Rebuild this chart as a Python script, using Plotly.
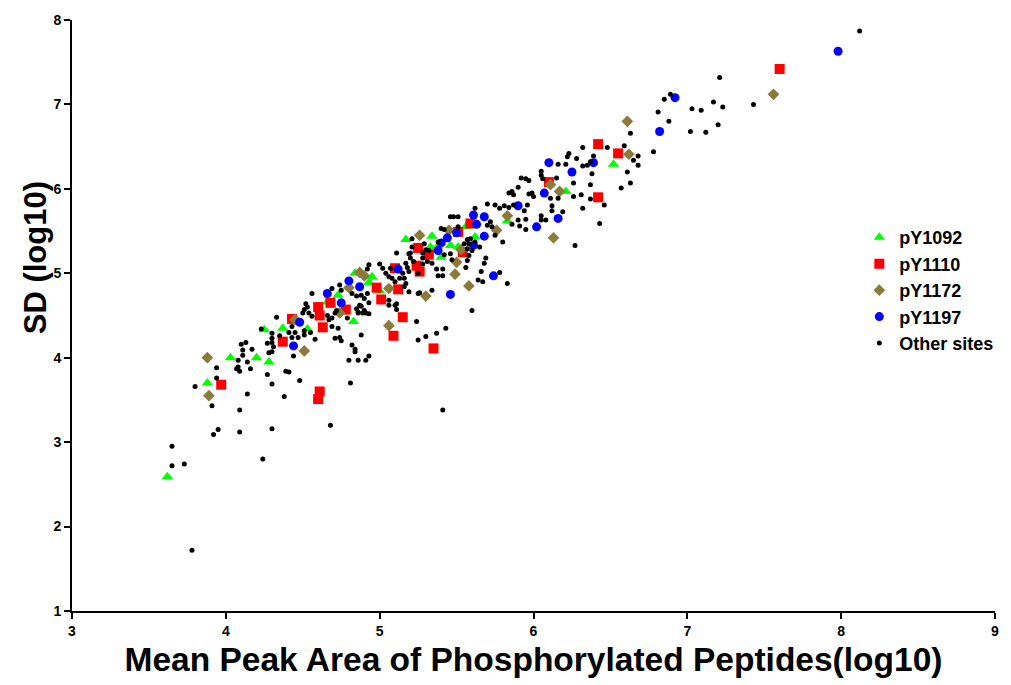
import plotly.graph_objects as go

# ---------------- data (log10 mean peak area, log10 SD) ----------------
py1092_x = [3.62, 3.88, 4.03, 4.20, 4.28, 4.25, 4.37, 4.53, 4.83, 4.66,
            4.73, 4.84, 4.95, 4.93, 5.00, 5.17, 5.34, 5.33, 5.37, 5.40,
            5.46, 5.51, 5.56, 5.62, 5.83, 6.21, 6.52]
py1092_y = [2.59, 3.70, 4.00, 4.00, 3.95, 4.33, 4.35, 4.34, 4.43, 4.66,
            4.74, 5.00, 4.96, 4.89, 4.79, 5.40, 5.44, 5.31, 5.30, 5.19,
            5.33, 5.31, 5.55, 5.43, 5.62, 5.97, 6.29]

py1110_x = [3.97, 4.37, 4.43, 4.61, 4.60, 4.60, 4.61, 4.63, 4.68, 4.78,
            4.98, 5.01, 5.12, 5.10, 5.15, 5.09, 5.35, 5.25, 5.32, 5.24,
            5.26, 5.51, 5.59, 5.54, 6.10, 6.42, 6.55, 6.42, 7.60]
py1110_y = [3.68, 4.19, 4.46, 3.60, 3.51, 4.60, 4.50, 4.36, 4.65, 4.57,
            4.83, 4.69, 4.81, 5.06, 4.48, 4.26, 4.11, 5.30, 5.22, 5.09,
            5.02, 5.49, 5.59, 5.25, 6.08, 6.53, 6.42, 5.90, 7.42]

py1172_x = [3.88, 3.89, 4.45, 4.51, 4.74, 4.80, 4.87, 4.90, 5.06, 5.06,
            5.30, 5.26, 5.45, 5.53, 5.50, 5.49, 5.58, 5.76, 5.83, 6.11,
            6.17, 6.13, 6.62, 6.61, 7.56]
py1172_y = [4.00, 3.55, 4.45, 4.08, 4.53, 4.83, 5.01, 4.97, 4.82, 4.38,
            4.73, 5.45, 5.51, 5.28, 5.13, 4.99, 4.85, 5.51, 5.68, 6.05,
            5.97, 5.42, 6.41, 6.80, 7.12]

py1197_x = [4.44, 4.48, 4.66, 4.75, 4.80, 4.87, 5.12, 5.38, 5.40, 5.44,
            5.50, 5.61, 5.63, 5.61, 5.68, 5.68, 5.90, 6.02, 5.74, 5.46,
            6.10, 6.25, 6.07, 6.39, 6.16, 6.82, 6.92, 7.98]
py1197_y = [4.14, 4.42, 4.76, 4.65, 4.91, 4.84, 5.05, 5.27, 5.36, 5.42,
            5.48, 5.69, 5.58, 5.33, 5.67, 5.44, 5.80, 5.55, 4.97, 4.75,
            6.31, 6.20, 5.95, 6.31, 5.65, 6.68, 7.08, 7.63]

other_x = [
    3.65, 3.65, 3.73, 3.78, 3.92, 3.95, 4.09, 4.30, 4.24, 4.68,
    3.80, 3.94, 3.94, 3.91, 4.09, 4.14, 4.38, 4.30, 4.48, 4.27,
    4.39, 4.41, 4.07, 4.08, 4.09, 4.16, 4.08, 4.14, 4.11, 4.11,
    4.17, 4.10, 4.13, 4.23, 4.33, 4.30, 4.30, 4.35, 4.41, 4.43,
    4.27, 4.30, 4.31, 4.28, 4.30, 4.44,
    4.93, 4.92, 5.00, 5.02, 5.04, 5.06, 5.08, 5.17, 5.18, 5.19,
    5.15, 5.16, 5.25, 5.13, 5.10, 5.17, 5.16, 4.74, 4.75, 4.56,
    4.82, 4.85, 4.88, 4.90, 4.92, 4.93, 4.87, 4.85, 4.86, 4.90,
    5.06, 5.06, 5.10, 5.11, 5.25, 5.24, 4.52, 4.53, 4.51, 4.50,
    4.54, 4.56, 4.66, 4.67, 4.72, 4.71, 4.69, 4.86, 4.89, 4.91,
    4.93, 4.79, 4.69, 4.73, 4.55, 4.58, 4.43, 4.45, 4.47, 4.71,
    4.74, 4.75, 4.88, 4.82, 4.84, 4.84, 4.80, 4.86, 4.91, 4.93,
    5.25,
    4.81, 5.30, 5.37, 5.43, 5.60, 4.51, 5.41, 5.11, 5.19,
    5.62, 5.70, 5.75, 5.78, 5.81, 5.84, 5.87, 5.96, 5.94, 5.46,
    5.48, 5.51, 5.40, 5.42, 5.51, 5.70, 5.72, 5.73, 5.75, 5.80,
    5.86, 5.90, 5.95, 5.91, 5.95, 5.21, 5.21, 5.29, 5.30, 5.32,
    5.28, 5.28, 5.20, 5.20, 5.22, 5.31, 5.34, 5.46, 5.47, 5.55,
    5.57, 5.59, 5.58, 5.57, 5.60, 5.58, 5.62, 5.65, 5.57, 5.69,
    5.68, 5.66, 5.56, 5.37, 5.41, 5.38, 5.41, 5.64, 5.78, 5.83,
    5.26, 5.34,
    5.92, 5.95, 5.97, 5.90, 5.86, 5.84, 5.87, 5.97, 5.99, 6.00,
    6.32, 6.23, 6.22, 6.28, 6.16, 6.21, 6.32, 6.35, 6.37, 6.39,
    6.48, 6.59, 6.68, 6.61, 6.38, 6.05, 6.05, 6.06, 6.15, 6.26,
    6.37, 6.26, 6.37, 6.57, 6.63, 6.46, 6.32, 6.12, 6.12, 6.19,
    6.08, 6.43, 6.27, 6.16, 6.68, 6.63,
    7.21, 6.89, 6.85, 6.81, 6.88, 7.03, 7.09, 7.17, 7.23, 7.43,
    7.02, 7.12, 7.20, 6.78, 8.12,
    4.69, 4.88, 5.11, 5.07, 5.19, 4.51, 5.38, 5.42, 5.28, 5.67,
    6.11, 6.31, 6.65, 6.05, 6.05]
other_y = [
    2.95, 2.72, 2.74, 1.72, 3.09, 3.15, 3.12, 3.16, 2.80, 3.20,
    3.66, 3.88, 3.76, 3.43, 3.38, 3.57, 3.54, 3.69, 3.73, 3.80,
    3.84, 3.83, 3.87, 3.89, 3.84, 3.87, 3.97, 3.95, 4.03, 4.09,
    4.10, 4.16, 4.18, 4.34, 4.48, 4.29, 4.23, 4.26, 4.30, 4.24,
    4.17, 4.18, 4.13, 4.06, 4.07, 4.02,
    5.10, 5.05, 5.11, 5.06, 5.00, 4.96, 4.94, 5.12, 5.07, 5.02,
    5.00, 4.94, 5.00, 4.94, 4.90, 4.88, 4.84, 4.86, 4.80, 4.76,
    4.76, 4.73, 4.74, 4.70, 4.76, 4.65, 4.62, 4.58, 4.54, 4.56,
    4.68, 4.62, 4.62, 4.57, 4.76, 4.43, 4.64, 4.60, 4.57, 4.53,
    4.53, 4.49, 4.50, 4.45, 4.56, 4.53, 4.47, 4.53, 4.53, 4.53,
    4.52, 4.47, 4.37, 4.35, 4.30, 4.22, 4.37, 4.30, 4.24, 4.23,
    4.24, 4.20, 4.27, 4.15, 4.10, 4.07, 3.97, 3.97, 3.97, 4.02,
    4.21,
    3.70, 4.25, 4.29, 4.35, 4.56, 4.32, 3.38, 5.24, 5.23,
    5.77, 5.82, 5.81, 5.77, 5.80, 5.78, 5.81, 5.81, 5.74, 5.67,
    5.67, 5.67, 5.53, 5.52, 5.55, 5.57, 5.61, 5.55, 5.45, 5.37,
    5.58, 5.63, 5.64, 5.56, 5.52, 5.41, 5.31, 5.35, 5.28, 5.27,
    5.24, 5.18, 5.24, 5.18, 5.14, 5.14, 5.12, 5.23, 5.16, 5.35,
    5.40, 5.41, 5.35, 5.29, 5.27, 5.21, 5.37, 5.31, 5.15, 5.18,
    5.12, 5.02, 5.07, 5.05, 5.05, 4.97, 4.97, 4.92, 5.01, 4.88,
    4.77, 4.80,
    6.13, 6.12, 6.10, 6.02, 5.97, 5.95, 5.93, 5.94, 5.95, 5.91,
    6.49, 6.42, 6.38, 6.36, 6.29, 6.29, 6.27, 6.28, 6.32, 6.39,
    6.49, 6.51, 6.28, 6.20, 6.18, 6.21, 6.16, 6.12, 6.13, 6.07,
    6.05, 5.91, 5.88, 6.01, 6.07, 5.81, 5.77, 5.80, 5.74, 5.73,
    5.63, 5.59, 5.33, 5.89, 6.39, 6.66,
    7.32, 7.12, 7.06, 6.91, 6.80, 6.95, 6.93, 7.03, 6.97, 7.00,
    6.68, 6.67, 6.76, 6.44, 7.87,
    4.82, 4.61, 4.64, 5.06, 4.78, 4.27, 5.37, 5.22, 5.11, 4.90,
    5.89, 5.93, 6.34, 5.68, 5.63]

x_ticks = [3, 4, 5, 6, 7, 8, 9]
y_ticks = [1, 2, 3, 4, 5, 6, 7, 8]
x_title = "Mean Peak Area of Phosphorylated Peptides(log10)"
y_title = "SD (log10)"

# ---------------- figure ----------------
FONT = "Liberation Sans, Arial, Helvetica, sans-serif"
fig = go.Figure()

styles = [
    ("pY1092", py1092_x, py1092_y, "triangle-up", "#00FF00", 10),
    ("pY1110", py1110_x, py1110_y, "square", "#FF0000", 10),
    ("pY1172", py1172_x, py1172_y, "diamond", "#8C7A3A", 9),
    ("pY1197", py1197_x, py1197_y, "circle", "#0000FF", 9),
]
for name, xs, ys, sym, col, sz in styles:
    fig.add_trace(go.Scatter(
        x=xs, y=ys, mode="markers", name=name,
        marker=dict(symbol=sym, color=col, size=sz, line=dict(width=0)),
    ))
fig.add_trace(go.Scatter(
    x=other_x, y=other_y, mode="markers", name="Other sites",
    marker=dict(symbol="circle", color="#000000", size=5, line=dict(width=0)),
))

axis_common = dict(
    showline=True, linecolor="black", linewidth=2,
    ticks="outside", ticklen=6, tickwidth=2, tickcolor="black",
    showgrid=False, zeroline=False, mirror=False,
    tickfont=dict(family=FONT, size=14, color="black", weight="bold"),
)
fig.update_layout(
    width=1011, height=685,
    margin=dict(l=72, r=14, t=20, b=74),
    paper_bgcolor="white", plot_bgcolor="white",
    showlegend=True,
    legend=dict(
        x=0.853, y=0.663, xanchor="left", yanchor="top",
        font=dict(family=FONT, size=18, color="black", weight="bold"),
        bgcolor="rgba(0,0,0,0)", itemsizing="trace", tracegroupgap=0,
    ),
    xaxis=dict(
        range=[3, 9], tickvals=x_ticks, **axis_common,
        title=dict(text=x_title, standoff=10,
                   font=dict(family=FONT, size=33.5, color="black", weight="bold")),
    ),
    yaxis=dict(
        range=[1, 8], tickvals=y_ticks, **axis_common,
    ),
    annotations=[dict(
        text=y_title, textangle=-90, showarrow=False,
        xref="paper", yref="paper", x=-0.04, y=0.597,
        xanchor="center", yanchor="middle",
        font=dict(family=FONT, size=31, color="black", weight="bold"),
    )],
)

fig.write_html("out.html")
